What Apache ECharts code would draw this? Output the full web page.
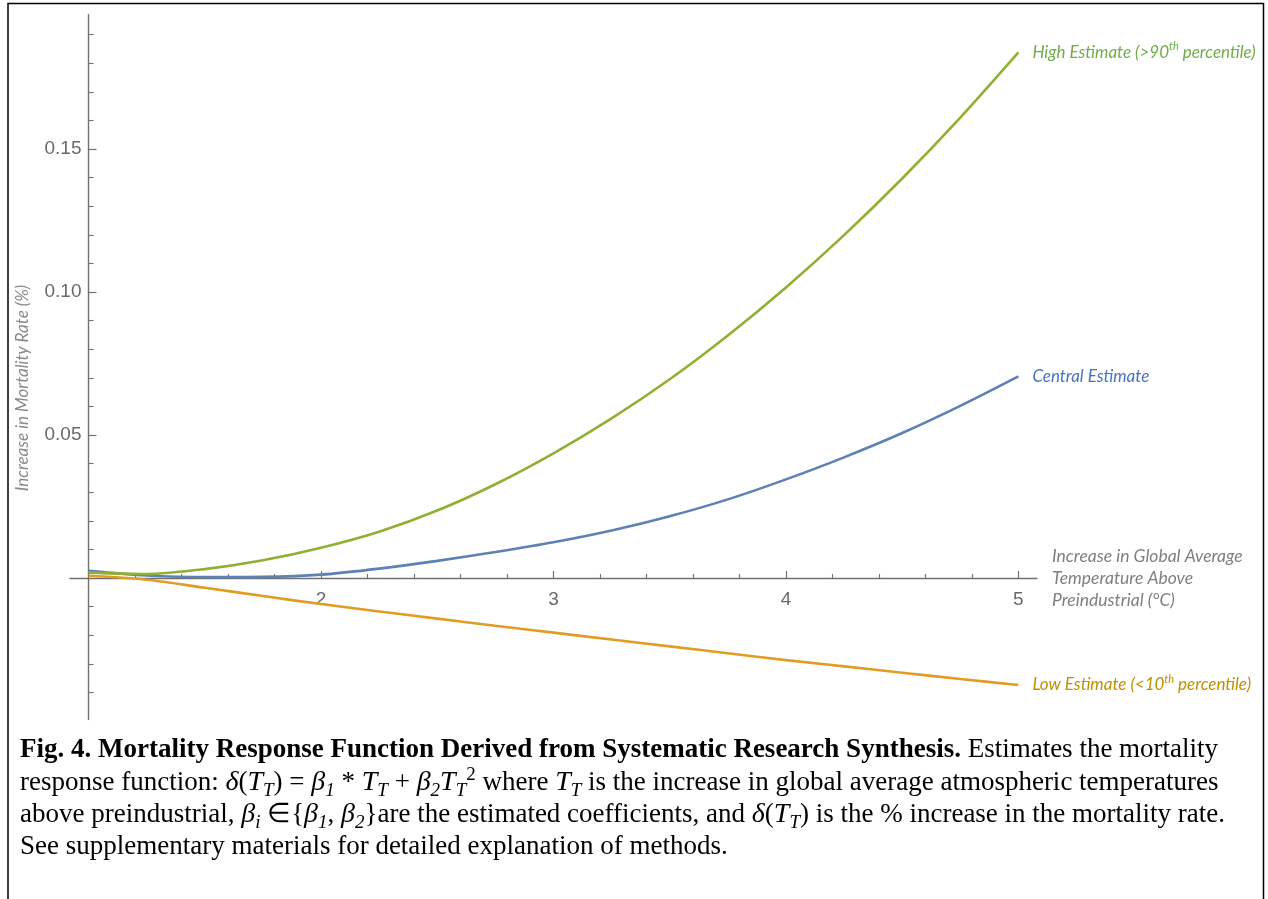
<!DOCTYPE html>
<html>
<head>
<meta charset="utf-8">
<script src="https://cdn.jsdelivr.net/npm/echarts@6.0.0/dist/echarts.min.js"></script>
<style>
  html, body { margin: 0; padding: 0; background: #fff; }
  #chart { width: 1268px; height: 899px; }
</style>
</head>
<body>
<div id="chart"></div>
<script>
// temperature increase above preindustrial (°C)
var temps = [1, 1.25, 1.5, 1.75, 2, 2.25, 2.5, 2.75, 3, 3.25, 3.5, 3.75, 4, 4.25, 4.5, 4.75, 5];
// increase in mortality rate (%)
var highEstimate = [0.0019, 0.0014, 0.0031, 0.0062, 0.0106, 0.0162, 0.0236, 0.0328, 0.0436, 0.0558, 0.0695, 0.0848, 0.1016, 0.1199, 0.1397, 0.1610, 0.1838];
var centralEstimate = [0.0025, 0.0009, 0.0003, 0.0004, 0.0012, 0.0033, 0.0060, 0.0091, 0.0125, 0.0166, 0.0216, 0.0275, 0.0345, 0.0422, 0.0507, 0.0602, 0.0705];
var lowEstimate = [0.0008, -0.0006, -0.0034, -0.0063, -0.0091, -0.0117, -0.0142, -0.0167, -0.0191, -0.0215, -0.0239, -0.0263, -0.0287, -0.0309, -0.0331, -0.0353, -0.0374];

var xMajorTicks = [2, 3, 4, 5];
var xMinorTicks = [1.2, 1.4, 1.6, 1.8, 2.2, 2.4, 2.6, 2.8, 3.2, 3.4, 3.6, 3.8, 4.2, 4.4, 4.6, 4.8];
var yMajorTicks = [0.05, 0.10, 0.15];
var yMinorTicks = [-0.04, -0.03, -0.02, -0.01, 0.01, 0.02, 0.03, 0.04, 0.06, 0.07, 0.08, 0.09,
                   0.11, 0.12, 0.13, 0.14, 0.16, 0.17, 0.18, 0.19];

var axisGrey = '#707070';
var labelGrey = '#6a6a6a';
var zeroOffset = -141.6; // lifts the x axis from the grid bottom up to y = 0

function pairs(ys) {
  return temps.map(function (t, i) { return [t, ys[i]]; });
}

function endLabel(text, color) {
  return {
    show: true,
    formatter: text,
    distance: 14,
    color: color,
    fontFamily: 'Lato',
    fontStyle: 'italic',
    fontSize: 17,
    lineHeight: 22,
    rich: {
      s: { color: color, fontFamily: 'Lato', fontStyle: 'italic', fontSize: 11, verticalAlign: 'top', lineHeight: 14 }
    }
  };
}

var chart = echarts.init(document.getElementById('chart'));

var serifRich = {
  t: { fontFamily: 'Liberation Serif', fontSize: 27, lineHeight: 34, fill: '#000' },
  b: { fontFamily: 'Liberation Serif', fontSize: 27, fontWeight: 'bold', lineHeight: 34, fill: '#000' },
  m: { fontFamily: 'Liberation Serif', fontSize: 28, fontStyle: 'italic', lineHeight: 34, fill: '#000' },
  sb: { fontFamily: 'Liberation Serif', fontSize: 19, fontStyle: 'italic', verticalAlign: 'bottom', fill: '#000' },
  sp: { fontFamily: 'Liberation Serif', fontSize: 19, verticalAlign: 'top', fill: '#000' }
};

function captionLine(y, text) {
  return {
    type: 'text',
    x: 20,
    y: y,
    style: {
      text: text,
      fontFamily: 'Liberation Serif',
      fontSize: 27,
      fill: '#000',
      verticalAlign: 'middle',
      rich: serifRich
    }
  };
}

chart.setOption({
  animation: false,
  backgroundColor: '#fff',
  grid: {
    left: 70,
    top: 14.6,
    width: 967,
    height: 705,
    outerBoundsMode: 'none',
    containLabel: false
  },
  xAxis: [
    {
      type: 'value',
      position: 'bottom',
      offset: zeroOffset,
      min: 0.92,
      max: 5.08,
      splitLine: { show: false },
      axisLine: { onZero: false, lineStyle: { color: axisGrey, width: 1.4 } },
      axisTick: { inside: true, length: 7, customValues: xMajorTicks, lineStyle: { color: axisGrey, width: 1.2 } },
      axisLabel: {
        customValues: xMajorTicks,
        margin: 12,
        color: labelGrey,
        fontFamily: 'Liberation Sans',
        fontSize: 19
      },
      name: 'Increase in Global Average\nTemperature Above\nPreindustrial (°C)',
      nameLocation: 'end',
      nameGap: 15,
      nameTextStyle: {
        align: 'left',
        verticalAlign: 'middle',
        color: '#7f7f7f',
        fontFamily: 'Lato',
        fontStyle: 'italic',
        fontSize: 17.5,
        lineHeight: 22,
        padding: [8, 0, 0, 0]
      }
    },
    {
      type: 'value',
      position: 'bottom',
      offset: zeroOffset,
      min: 0.92,
      max: 5.08,
      splitLine: { show: false },
      axisLine: { show: false, onZero: false },
      axisTick: { inside: true, length: 4, customValues: xMinorTicks, lineStyle: { color: axisGrey, width: 1.1 } },
      axisLabel: { show: false }
    }
  ],
  yAxis: [
    {
      type: 'value',
      position: 'left',
      offset: -18.5,
      min: -0.0495,
      max: 0.197,
      splitLine: { show: false },
      axisLine: { show: true, lineStyle: { color: axisGrey, width: 1.4 } },
      axisTick: { show: true, inside: true, length: 8, customValues: yMajorTicks, lineStyle: { color: axisGrey, width: 1.2 } },
      axisLabel: {
        customValues: yMajorTicks,
        margin: 7,
        color: labelGrey,
        fontFamily: 'Liberation Sans',
        fontSize: 19,
        formatter: function (v) { return v.toFixed(2); }
      }
    },
    {
      type: 'value',
      position: 'left',
      offset: -18.5,
      min: -0.0495,
      max: 0.197,
      splitLine: { show: false },
      axisLine: { show: false },
      axisTick: { show: true, inside: true, length: 5, customValues: yMinorTicks, lineStyle: { color: axisGrey, width: 1.1 } },
      axisLabel: { show: false }
    }
  ],
  series: [
    {
      name: 'Low Estimate',
      type: 'line',
      data: pairs(lowEstimate),
      smooth: 0.3,
      showSymbol: false,
      lineStyle: { color: '#e19c24', width: 2.6 },
      endLabel: endLabel('Low Estimate (<10{s|th} percentile)', '#bf9000')
    },
    {
      name: 'Central Estimate',
      type: 'line',
      data: pairs(centralEstimate),
      smooth: 0.3,
      showSymbol: false,
      lineStyle: { color: '#5e81b5', width: 2.6 },
      endLabel: endLabel('Central Estimate', '#4472c4')
    },
    {
      name: 'High Estimate',
      type: 'line',
      data: pairs(highEstimate),
      smooth: 0.3,
      showSymbol: false,
      lineStyle: { color: '#8fb032', width: 2.6 },
      endLabel: endLabel('High Estimate (>90{s|th} percentile)', '#70ad47')
    }
  ],
  graphic: [
    {
      type: 'rect',
      shape: { x: 8, y: 3.5, width: 1255.5, height: 910 },
      style: { fill: 'none', stroke: '#000', lineWidth: 1.5 },
      silent: true
    },
    {
      type: 'text',
      x: 23,
      y: 388,
      rotation: Math.PI / 2,
      style: {
        text: 'Increase in Mortality Rate (%)',
        fontFamily: 'Lato',
        fontStyle: 'italic',
        fontSize: 17,
        fill: '#8a8a8a',
        align: 'center',
        verticalAlign: 'middle'
      }
    },
    captionLine(750, '{b|Fig. 4. Mortality Response Function Derived from Systematic Research Synthesis.}{t| Estimates the mortality}'),
    captionLine(783, '{t|response function: }{m|δ}{t|(}{m|T}{sb|T}{t|) = }{m|β}{sb|1}{t| * }{m|T}{sb|T}{t| + }{m|β}{sb|2}{m|T}{sb|T}{sp|2}{t| where }{m|T}{sb|T}{t| is the increase in global average atmospheric temperatures}'),
    captionLine(815, '{t|above preindustrial, }{m|β}{sb|i}{t| ∈}{{m|β}{sb|1}{t|, }{m|β}{sb|2}}{t|are the estimated coefficients, and }{m|δ}{t|(}{m|T}{sb|T}{t|) is the % increase in the mortality rate.}'),
    captionLine(847, '{t|See supplementary materials for detailed explanation of methods.}')
  ]
});
</script>
</body>
</html>
